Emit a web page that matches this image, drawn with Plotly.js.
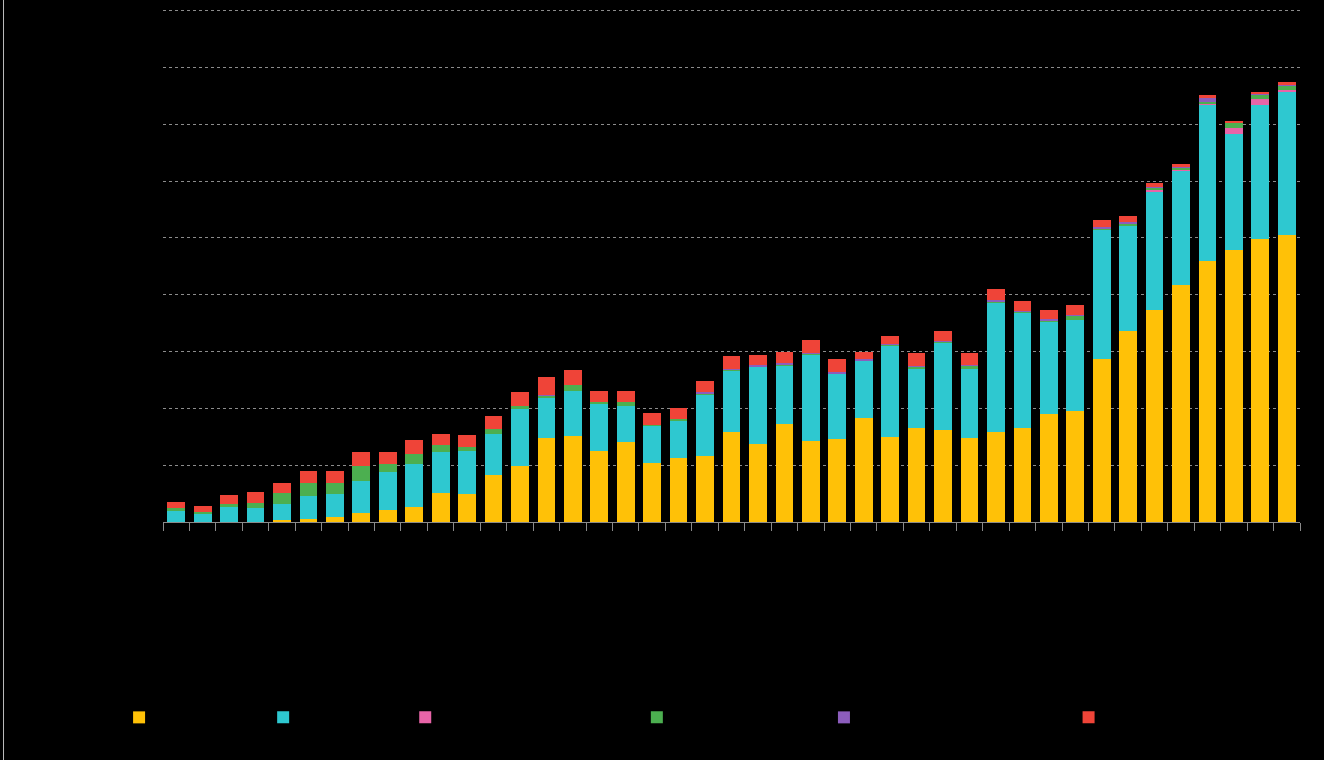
<!DOCTYPE html>
<html>
<head>
<meta charset="utf-8">
<script src="https://cdn.plot.ly/plotly-3.0.1.min.js"></script>
<style>
  html, body { margin: 0; padding: 0; background: #000; }
  #chart { width: 1324px; height: 760px; }
</style>
</head>
<body>
<div id="chart"></div>
<script>
// Categories (quarters)
const categories = [
  "Q1 2013","Q2 2013","Q3 2013","Q4 2013",
  "Q1 2014","Q2 2014","Q3 2014","Q4 2014",
  "Q1 2015","Q2 2015","Q3 2015","Q4 2015",
  "Q1 2016","Q2 2016","Q3 2016","Q4 2016",
  "Q1 2017","Q2 2017","Q3 2017","Q4 2017",
  "Q1 2018","Q2 2018","Q3 2018","Q4 2018",
  "Q1 2019","Q2 2019","Q3 2019","Q4 2019",
  "Q1 2020","Q2 2020","Q3 2020","Q4 2020",
  "Q1 2021","Q2 2021","Q3 2021","Q4 2021",
  "Q1 2022","Q2 2022","Q3 2022","Q4 2022",
  "Q1 2023","Q2 2023","Q3 2023"
];

const solar = [0,0,0,0,0.3,0.6,0.8,1.6,2.2,2.7,5.1,5.0,8.2,9.9,14.8,15.1,12.5,14.0,10.4,11.2,11.7,15.8,13.7,17.2,14.3,14.55,18.3,15.0,16.6,16.2,14.85,15.9,16.6,19.0,19.6,28.75,33.6,37.3,41.8,46.0,47.9,49.9,50.5];
const wind = [2.1,1.4,2.6,2.5,2.9,4.0,4.1,5.6,6.6,7.5,7.3,7.5,7.3,10.0,7.1,7.9,8.4,6.5,6.5,6.7,10.8,10.9,13.6,10.4,15.2,11.5,10.1,16.1,10.5,15.4,12.05,22.7,20.3,16.3,16.0,22.65,18.5,20.85,20.05,27.4,20.4,23.45,25.2];
const marine = [0,0,0,0,0,0,0,0,0,0,0,0,0,0,0,0,0,0,0,0,0,0,0,0,0,0,0,0,0,0,0,0,0,0,0,0,0,0.3,0.1,0.1,1.0,1.1,0.35];
const biomass = [0.3,0.4,0.5,0.9,1.9,2.3,2.0,2.6,1.4,1.7,1.1,0.7,0.8,0.5,0.3,1.1,0.2,0.6,0.2,0.2,0.2,0.1,0.1,0.1,0.1,0.1,0.1,0.2,0.2,0.2,0.6,0.2,0.1,0.2,0.7,0.3,0.5,0.4,0.4,0.4,1.06,0.85,0.8];
const geothermal = [0,0,0,0,0,0,0,0,0,0,0,0,0,0,0.1,0,0,0,0,0,0.1,0.1,0.2,0.2,0.1,0.2,0.2,0.1,0.2,0.1,0.2,0.2,0.1,0.2,0.1,0.2,0.2,0.2,0.25,0.7,0,0.1,0.1];
const biofuels = [1.2,1.1,1.6,1.8,1.8,2.1,2.1,2.5,2.2,2.5,2.0,2.1,2.4,2.5,3.3,2.6,2.0,2.0,2.0,1.9,2.1,2.3,1.75,2.0,2.3,2.3,1.15,1.35,2.2,1.7,2.0,2.1,1.75,1.6,1.85,1.3,1.1,0.55,0.35,0.6,0.15,0.35,0.45];

const seriesNames = ["Solar","Wind","Marine","Biomass & waste","Geothermal","Biofuels"];
const seriesColors = ["#FFC107","#2EC8D0","#E864A8","#4CAF50","#8C5DBC","#EF4438"];
const seriesValues = [solar, wind, marine, biomass, geothermal, biofuels];
const legendIds = ["legend","legend2","legend3","legend4","legend5","legend6"];

const traces = seriesValues.map((vals, i) => ({
  type: "bar",
  name: seriesNames[i],
  x: categories,
  y: vals,
  marker: { color: seriesColors[i], line: { width: 0 } },
  legend: legendIds[i],
  hoverinfo: "x+y+name"
}));

// Plot area geometry in pixels (0 at y=522, 90 at y=11)
const yMax = 91;
const unitPx = (522 - 11) / 90;
const L = 163.4, R = 1299.8, B = 522;
const T = B - yMax * unitPx;
const W = R - L, H = B - T;
const legendCenters = [139.5, 283.5, 425.5, 657, 844, 1088.5];
const legendY = 717.5;

const layout = {
  width: 1324,
  height: 760,
  paper_bgcolor: "#000000",
  plot_bgcolor: "#000000",
  barmode: "stack",
  bargap: 0.33,
  margin: { l: L, r: 1324 - R, t: T, b: 760 - B, pad: 0 },
  font: { family: "Liberation Sans, Arial, sans-serif", color: "#000000", size: 13 },
  showlegend: true,
  xaxis: {
    type: "category",
    range: [-0.5, categories.length - 0.5],
    showline: true,
    linecolor: "#8a8a8a",
    linewidth: 1,
    ticks: "outside",
    tickson: "boundaries",
    ticklen: 8,
    tickcolor: "#8a8a8a",
    tickwidth: 1,
    tickangle: -90,
    tickfont: { color: "#000000", size: 13 },
    showgrid: false,
    zeroline: false
  },
  yaxis: {
    range: [0, yMax],
    tick0: 0,
    dtick: 10,
    showgrid: true,
    gridcolor: "#8c8c8c",
    gridwidth: 1,
    griddash: "dot",
    showline: false,
    zeroline: false,
    ticks: "",
    tickfont: { color: "#000000", size: 13 }
  },
  shapes: [{
    type: "line",
    xref: "paper", yref: "paper",
    x0: (4 - L) / W, x1: (4 - L) / W,
    y0: (B - 0) / H, y1: (B - 760) / H,
    line: { color: "#bdbdbd", width: 1 }
  }]
};

legendIds.forEach((id, i) => {
  layout[id] = {
    x: (legendCenters[i] - 20 - L) / W,
    y: (B - legendY) / H,
    xanchor: "left",
    yanchor: "middle",
    orientation: "h",
    bgcolor: "rgba(0,0,0,0)",
    borderwidth: 0,
    font: { color: "#000000", size: 15 }
  };
});

Plotly.newPlot("chart", traces, layout, { displayModeBar: false, responsive: false });
</script>
</body>
</html>
